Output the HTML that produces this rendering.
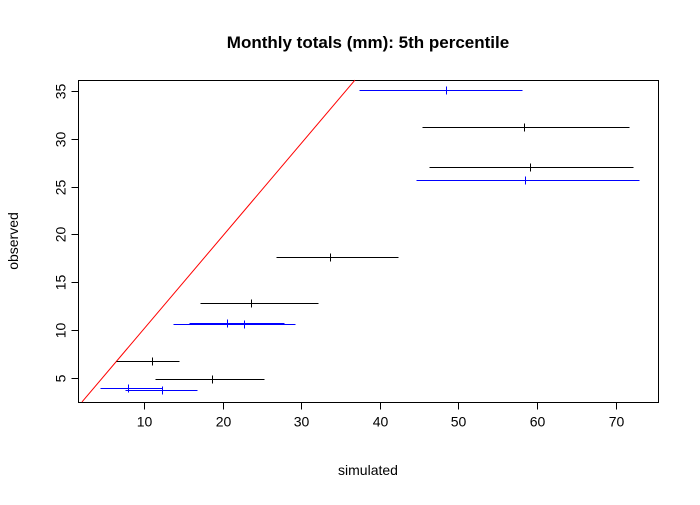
<!DOCTYPE html>
<html><head><meta charset="utf-8"><style>
body{margin:0;background:#fff;font-family:"Liberation Sans",sans-serif}
</style></head><body>
<svg id="c" width="700" height="500" xmlns="http://www.w3.org/2000/svg" style="font-family:'Liberation Sans',sans-serif">
<rect width="700" height="500" fill="#fff"/>
<text x="368" y="48" text-anchor="middle" font-size="17" font-weight="bold">Monthly totals (mm): 5th percentile</text>
<text x="368" y="475" text-anchor="middle" font-size="14">simulated</text>
<text x="18" y="241" text-anchor="middle" font-size="14" transform="rotate(-90 18 241)">observed</text>
<g id="plot"></g>
</svg>
<script>
const yObs=[35.09,31.22,27.04,25.68,17.64,12.81,10.74,10.64,6.77,4.89,3.95,3.74];
const xLo=[37.35,45.37,46.26,44.6,26.8,17.1,15.7,13.7,6.4,11.4,4.4,7.6];
const xHi=[58.09,71.7,72.2,73.0,42.3,32.1,27.8,29.2,14.4,25.3,12.3,16.75];
const xMid=[48.42,58.35,59.1,58.5,33.7,23.6,20.6,22.7,11.0,18.65,8.0,12.3];
const colors=["blue","black","black","blue","black","black","blue","blue","black","black","blue","blue"];
const xTicks=[10,20,30,40,50,60,70];
const yTicks=[5,10,15,20,25,30,35];
const refLine=[[2.11,2.49],[36.84,36.13]];
const L=78.5,R=658.5,T=80.5,B=402.5;
const sx=v=>Math.round(65.4+v*7.86)+0.5, sy=v=>Math.round(425.8-v*9.57)+0.5;
const fx=v=>65.4+v*7.86, fy=v=>425.8-v*9.57;
const ns="http://www.w3.org/2000/svg";
const g=document.getElementById('plot');
function mk(t,a){const e=document.createElementNS(ns,t);for(const k in a)e.setAttribute(k,a[k]);g.appendChild(e);return e;}
const box=mk('rect',{x:L,y:T,width:R-L,height:B-T,fill:'none',stroke:'#000'});


const ref=mk('line',{x1:fx(refLine[0][0]),y1:fy(refLine[0][1]),x2:fx(refLine[1][0]),y2:fy(refLine[1][1]),stroke:'red'});


xTicks.forEach(v=>{
 const l=mk('line',{x1:sx(v),y1:B,x2:sx(v),y2:B+7,stroke:'#000'});
 
 
 const t=mk('text',{x:sx(v),y:B+24,'text-anchor':'middle','font-size':14});t.textContent=v;
 
 
});
yTicks.forEach(v=>{
 const l=mk('line',{x1:L-7,y1:sy(v),x2:L,y2:sy(v),stroke:'#000'});
 
 
 const tx=L-13;
 const t=mk('text',{x:tx,y:sy(v),'text-anchor':'middle','font-size':14,transform:`rotate(-90 ${tx} ${sy(v)})`});t.textContent=v;
 
 
});
yObs.forEach((y,i)=>{
 const s=mk('line',{x1:sx(xLo[i]),y1:sy(y),x2:sx(xHi[i]),y2:sy(y),stroke:colors[i],'shape-rendering':'crispEdges'});
 
 
 const m=mk('line',{x1:sx(xMid[i]),y1:sy(y)-4,x2:sx(xMid[i]),y2:sy(y)+4,stroke:colors[i],'shape-rendering':'crispEdges'});
 
 
});
</script>
</body></html>
